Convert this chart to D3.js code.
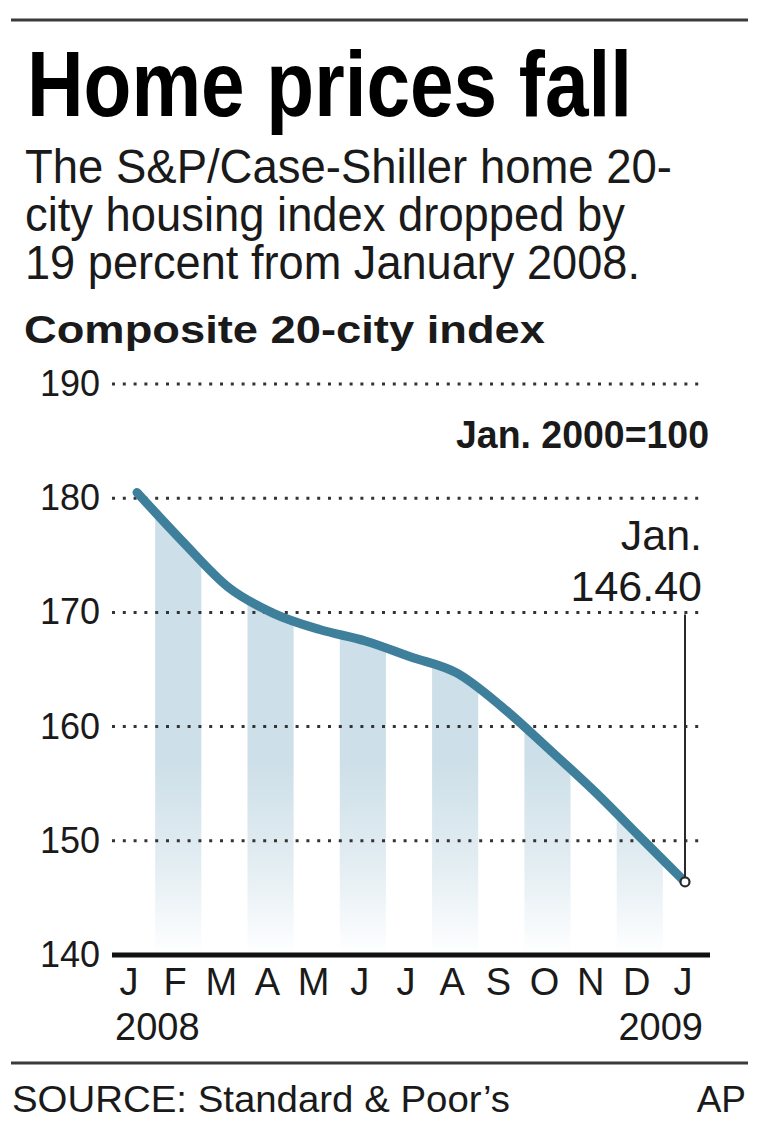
<!DOCTYPE html>
<html>
<head>
<meta charset="utf-8">
<script src="https://cdn.jsdelivr.net/npm/d3@7/dist/d3.min.js"></script>
<style>
  html, body { margin: 0; padding: 0; background: #ffffff; }
  svg { display: block; }
  text { fill: #1a1a1a; }
</style>
</head>
<body>
<div id="chart"></div>
<script>
// ---- Data ----
const months = ["J", "F", "M", "A", "M", "J", "J", "A", "S", "O", "N", "D", "J"];
const values = [180.5, 176.2, 172.2, 169.9, 168.5, 167.5, 166.1, 164.7, 161.7, 158.1, 154.4, 150.4, 146.4];
const yTicks = [140, 150, 160, 170, 180, 190];
const gridTicks = [150, 160, 170, 180, 190];
const yearLabels = ["2008", "2009"];
const shadedMonths = [1, 3, 5, 7, 9, 11];
const titleText = "Home prices fall";
const subtitleLines = ["The S&P/Case-Shiller home 20-", "city housing index dropped by", "19 percent from January 2008."];
const chartLabel = "Composite 20-city index";
const baseNote = "Jan. 2000=100";
const endLabel = ["Jan.", "146.40"];
const sourceText = "SOURCE: Standard & Poor\u2019s";
const creditText = "AP";

// ---- Setup ----
const W = 760, H = 1143;
const svg = d3.select("#chart").append("svg").attr("width", W).attr("height", H);
const sans = "'Liberation Sans', Arial, Helvetica, sans-serif";
const narrow = "'Liberation Sans Narrow', 'Liberation Sans', Arial, sans-serif";

const y = d3.scaleLinear().domain([140, 190]).range([955, 384]);
const xLine = d3.scaleLinear().domain([0, months.length - 1]).range([137, 685]);
const xBand = d3.scaleBand().domain(d3.range(months.length)).range([109, 709]).padding(0);

// ---- Header ----
svg.append("line").attr("x1", 11).attr("x2", 748).attr("y1", 20).attr("y2", 20)
  .attr("stroke", "#3a3a3a").attr("stroke-width", 3);

svg.append("text").attr("x", 27).attr("y", 116)
  .attr("font-family", narrow).attr("font-weight", "bold").attr("font-size", 92)
  .attr("textLength", 605).attr("lengthAdjust", "spacingAndGlyphs")
  .style("fill", "#000").text(titleText);

const subLens = [647, 600, 615];
subtitleLines.forEach((t, i) => {
  svg.append("text").attr("x", 25).attr("y", 183 + i * 48)
    .attr("font-family", sans).attr("font-size", 48)
    .attr("textLength", subLens[i]).attr("lengthAdjust", "spacingAndGlyphs")
    .text(t);
});

svg.append("text").attr("x", 24).attr("y", 343)
  .attr("font-family", sans).attr("font-weight", "bold").attr("font-size", 39)
  .attr("textLength", 521).attr("lengthAdjust", "spacingAndGlyphs")
  .text(chartLabel);

// ---- Shaded columns under the curve ----
const defs = svg.append("defs");
const grad = defs.append("linearGradient").attr("id", "barGrad")
  .attr("gradientUnits", "userSpaceOnUse")
  .attr("x1", 0).attr("x2", 0).attr("y1", y(190)).attr("y2", y(140));
grad.append("stop").attr("offset", 0).attr("stop-color", "#cddfe8");
grad.append("stop").attr("offset", 0.66).attr("stop-color", "#cddfe8");
grad.append("stop").attr("offset", 0.85).attr("stop-color", "#e4eef3");
grad.append("stop").attr("offset", 1).attr("stop-color", "#ffffff");

const clip = defs.append("clipPath").attr("id", "colClip");
clip.selectAll("rect").data(shadedMonths).join("rect")
  .attr("x", d => xBand(d)).attr("width", xBand.bandwidth())
  .attr("y", y(190)).attr("height", y(140) - y(190));

const curve = d3.curveMonotoneX;
const area = d3.area()
  .x((d, i) => xLine(i)).y0(y(140)).y1(d => y(d)).curve(curve);
svg.append("path").datum(values).attr("d", area)
  .attr("fill", "url(#barGrad)").attr("clip-path", "url(#colClip)");

// ---- Grid lines ----
svg.append("g").selectAll("line").data(gridTicks).join("line")
  .attr("x1", 112).attr("x2", 706)
  .attr("y1", d => y(d)).attr("y2", d => y(d))
  .attr("stroke", "#333").attr("stroke-width", 3)
  .attr("stroke-dasharray", "3 7.8");

// ---- Y tick labels ----
svg.append("g").selectAll("text").data(yTicks).join("text")
  .attr("x", 100).attr("y", d => y(d) + 12)
  .attr("text-anchor", "end")
  .attr("font-family", sans).attr("font-size", 36)
  .text(d => d);

// ---- Baseline axis ----
svg.append("line").attr("x1", 112).attr("x2", 710)
  .attr("y1", y(140)).attr("y2", y(140))
  .attr("stroke", "#111").attr("stroke-width", 5);

// ---- X labels ----
svg.append("g").selectAll("text").data(months).join("text")
  .attr("x", (d, i) => xBand(i) + xBand.bandwidth() / 2 - 3)
  .attr("y", 995)
  .attr("text-anchor", "middle")
  .attr("font-family", sans).attr("font-size", 38)
  .text(d => d);

svg.append("text").attr("x", xBand(0) + 6).attr("y", 1040)
  .attr("font-family", sans).attr("font-size", 38).text(yearLabels[0]);
svg.append("text").attr("x", xBand(months.length - 1) + xBand.bandwidth() - 6).attr("y", 1040)
  .attr("text-anchor", "end")
  .attr("font-family", sans).attr("font-size", 38).text(yearLabels[1]);

// ---- Line ----
const line = d3.line().x((d, i) => xLine(i)).y(d => y(d)).curve(curve);
svg.append("path").datum(values).attr("d", line)
  .attr("fill", "none").attr("stroke", "#3e7f9b")
  .attr("stroke-width", 9).attr("stroke-linecap", "round").attr("stroke-linejoin", "round");

// ---- End annotation ----
const lastI = values.length - 1;
const ex = xLine(lastI), ey = y(values[lastI]);
svg.append("line").attr("x1", ex).attr("x2", ex)
  .attr("y1", y(170) + 2).attr("y2", ey - 4)
  .attr("stroke", "#2a2a2a").attr("stroke-width", 2);
svg.append("circle").attr("cx", ex).attr("cy", ey).attr("r", 4.5)
  .attr("fill", "#fff").attr("stroke", "#2a2a2a").attr("stroke-width", 2.2);

svg.append("text").attr("x", 702).attr("y", 550).attr("text-anchor", "end")
  .attr("font-family", sans).attr("font-size", 43).text(endLabel[0]);
svg.append("text").attr("x", 702).attr("y", 601).attr("text-anchor", "end")
  .attr("font-family", sans).attr("font-size", 43).text(endLabel[1]);

svg.append("text").attr("x", 709).attr("y", 448).attr("text-anchor", "end")
  .attr("font-family", sans).attr("font-weight", "bold").attr("font-size", 38)
  .attr("textLength", 253).attr("lengthAdjust", "spacingAndGlyphs")
  .text(baseNote);

// ---- Footer ----
svg.append("line").attr("x1", 11).attr("x2", 748).attr("y1", 1063).attr("y2", 1063)
  .attr("stroke", "#3a3a3a").attr("stroke-width", 3);
svg.append("text").attr("x", 12).attr("y", 1112)
  .attr("font-family", narrow).attr("font-size", 37)
  .attr("textLength", 498).attr("lengthAdjust", "spacingAndGlyphs")
  .text(sourceText);
svg.append("text").attr("x", 746).attr("y", 1112).attr("text-anchor", "end")
  .attr("font-family", narrow).attr("font-size", 37)
  .text(creditText);
</script>
</body>
</html>
